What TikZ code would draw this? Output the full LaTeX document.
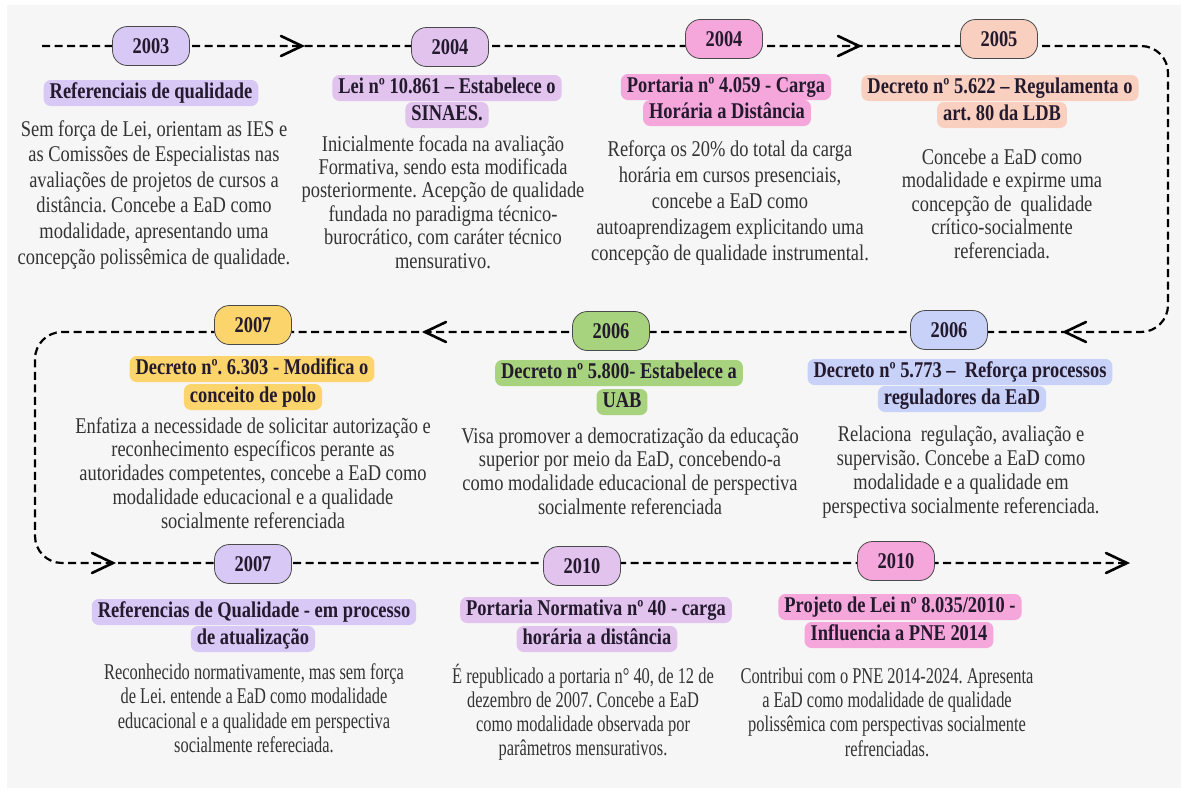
\documentclass[tikz,border=0pt]{standalone}
\usepackage{fontspec}
\setmainfont{Liberation Serif}[FakeStretch=0.82]
\newfontfamily\condfont{Liberation Serif}[FakeStretch=0.73]
\usetikzlibrary{calc}
\definecolor{bgc}{HTML}{F6F6F6}
\definecolor{lav}{HTML}{D8C8F5}
\definecolor{lil}{HTML}{E2C3EE}
\definecolor{pnk}{HTML}{F5A6DA}
\definecolor{pch}{HTML}{F9CFC0}
\definecolor{blu}{HTML}{C8D1F7}
\definecolor{grn}{HTML}{A8D37E}
\definecolor{ylw}{HTML}{FBD46C}
\definecolor{hdrc}{HTML}{231A2E}
\definecolor{bodyc}{HTML}{333333}
\definecolor{pillb}{HTML}{4A4A4A}
\tikzset{
  tl/.style={draw=black, line width=2.2pt, dash pattern=on 8pt off 4.5pt, rounded corners=27pt},
  chev/.style={draw=black, line width=2.6pt, line cap=round, line join=miter},
  pill/.style={draw=pillb, line width=0.8pt, fill=#1, rounded corners=15pt, minimum width=77pt, minimum height=39pt, inner sep=0pt, text=hdrc, font=\bfseries\fontsize{22.5}{25}\selectfont},
  hdr/.style={fill=#1, rounded corners=7pt, inner xsep=6pt, inner ysep=2.5pt, text height=16pt, text depth=5pt, text=hdrc, font=\bfseries\fontsize{22.5}{25}\selectfont},
  body/.style={anchor=north, align=center, inner sep=0pt, text=bodyc, font=\fontsize{22.5}{#1}\selectfont},
  bodyc/.style={anchor=north, align=center, inner sep=0pt, text=bodyc, font=\condfont\fontsize{22.5}{#1}\selectfont}
}
\begin{document}
\frenchspacing
\begin{tikzpicture}[x=1pt,y=-1pt]
\useasboundingbox (0,0) rectangle (1181,798);
\fill[white] (0,0) rectangle (1181,798);
\fill[bgc] (7,5) rectangle (1181,788);

% timeline path
\coordinate (tlStart) at (42,46);
\coordinate (cTR) at (1168,46);
\coordinate (cBR) at (1168,332);
\coordinate (cTL) at (35,332);
\coordinate (cBL) at (35,563);
\coordinate (tlEnd) at (1127,563);
\draw[tl] (tlStart) -- (cTR) -- (cBR) -- (cTL) -- (cBL) -- (tlEnd);

% chevrons
\coordinate (a1) at (302,46);
\coordinate (a2) at (859,46);
\coordinate (a3) at (1065,332);
\coordinate (a4) at (425,332);
\coordinate (a5) at (113,563);
\draw[chev] ($(a1)+(-21,-10)$) -- (a1) -- ($(a1)+(-21,10)$);
\draw[chev] ($(a2)+(-21,-10)$) -- (a2) -- ($(a2)+(-21,10)$);
\draw[chev] ($(a3)+(21,-10)$) -- (a3) -- ($(a3)+(21,10)$);
\draw[chev] ($(a4)+(21,-10)$) -- (a4) -- ($(a4)+(21,10)$);
\draw[chev] ($(a5)+(-21,-10)$) -- (a5) -- ($(a5)+(-21,10)$);
\draw[chev] ($(tlEnd)+(-21,-10)$) -- (tlEnd) -- ($(tlEnd)+(-21,10)$);

% pills
\node[pill=lav] (p2003) at (151,46) {2003};
\node[pill=lil] (p2004a) at (450,47) {2004};
\node[pill=pnk] (p2004b) at (724,39) {2004};
\node[pill=pch] (p2005) at (999,39) {2005};
\node[pill=ylw] (p2007a) at (253,325) {2007};
\node[pill=grn] (p2006b) at (611,331) {2006};
\node[pill=blu] (p2006a) at (949,330) {2006};
\node[pill=lav] (p2007b) at (253,564) {2007};
\node[pill=lil] (p2010a) at (582,566) {2010};
\node[pill=pnk] (p2010b) at (896,561) {2010};

% headers row 1
\node[hdr=lav] (h1) at (151,93) {Referenciais de qualidade};
\node[hdr=lil] (h2b) at (447,115) {SINAES.};
\node[hdr=lil] (h2a) at (447,88) {Lei nº 10.861 – Estabelece o};
\node[hdr=pnk] (h3b) at (727,113) {Horária a Distância};
\node[hdr=pnk] (h3a) at (726,87) {Portaria nº 4.059 - Carga};
\node[hdr=pch] (h4b) at (1002,115) {art. 80 da LDB};
\node[hdr=pch] (h4a) at (1000,88) {Decreto nº 5.622 – Regulamenta o};
% headers row 2
\node[hdr=ylw] (h5b) at (253,397) {conceito de polo};
\node[hdr=ylw] (h5a) at (252,369) {Decreto nº. 6.303 - Modifica o};
\node[hdr=grn] (h6b) at (622,402) {UAB};
\node[hdr=grn] (h6a) at (619,373) {Decreto nº 5.800- Estabelece a};
\node[hdr=blu] (h7b) at (962,399) {reguladores da EaD};
\node[hdr=blu] (h7a) at (960,372) {Decreto nº 5.773 – \ Reforça processos};
% headers row 3
\node[hdr=lav] (h8b) at (253,639) {de atualização};
\node[hdr=lav] (h8a) at (254,612) {Referencias de Qualidade - em processo};
\node[hdr=lil] (h9b) at (597,639) {horária a distância};
\node[hdr=lil] (h9a) at (596,610) {Portaria Normativa nº 40 - carga};
\node[hdr=pnk] (h10b) at (899,635) {Influencia a PNE 2014};
\node[hdr=pnk] (h10a) at (900,607) {Projeto de Lei nº 8.035/2010 -};

% bodies row 1
\node[body=25.6] (b1) at (154,118) {\strut Sem força de Lei, orientam as IES e\\as Comissões de Especialistas nas\\avaliações de projetos de cursos a\\distância. Concebe a EaD como\\modalidade, apresentando uma\\concepção polissêmica de qualidade.};
\node[body=23.4] (b2) at (443,134.6) {\strut Inicialmente focada na avaliação\\Formativa, sendo esta modificada\\posteriormente. Acepção de qualidade\\fundada no paradigma técnico-\\burocrático, com caráter técnico\\mensurativo.};
\node[body=26] (b3) at (730,138) {\strut Reforça os 20\% do total da carga\\horária em cursos presenciais,\\concebe a EaD como\\autoaprendizagem explicitando uma\\concepção de qualidade instrumental.};
\node[body=23.5] (b4) at (1002,147.5) {\strut Concebe a EaD como\\modalidade e expirme uma\\concepção de \ qualidade\\crítico-socialmente\\referenciada.};
% bodies row 2
\node[body=23.75] (b5) at (253,416.4) {\strut Enfatiza a necessidade de solicitar autorização e\\reconhecimento específicos perante as\\autoridades competentes, concebe a EaD como\\modalidade educacional e a qualidade\\socialmente referenciada};
\node[body=23.7] (b6) at (630,426.4) {\strut Visa promover a democratização da educação\\superior por meio da EaD, concebendo-a\\como modalidade educacional de perspectiva\\socialmente referenciada};
\node[body=24] (b7) at (961,424.2) {\strut Relaciona \ regulação, avaliação e\\supervisão. Concebe a EaD como\\modalidade e a qualidade em\\perspectiva socialmente referenciada.};
% bodies row 3
\node[bodyc=24.5] (b8) at (254,662) {\strut Reconhecido normativamente, mas sem força\\de Lei. entende a EaD como modalidade\\educacional e a qualidade em perspectiva\\socialmente refereciada.};
\node[bodyc=23.7] (b9) at (583,664.4) {\strut É republicado a portaria n° 40, de 12 de\\dezembro de 2007. Concebe a EaD\\como modalidade observada por\\parâmetros mensurativos.};
\node[bodyc=24.3] (b10) at (887,666) {\strut Contribui com o PNE 2014-2024. Apresenta\\a EaD como modalidade de qualidade\\polissêmica com perspectivas socialmente\\refrenciadas.};
\end{tikzpicture}
\end{document}
